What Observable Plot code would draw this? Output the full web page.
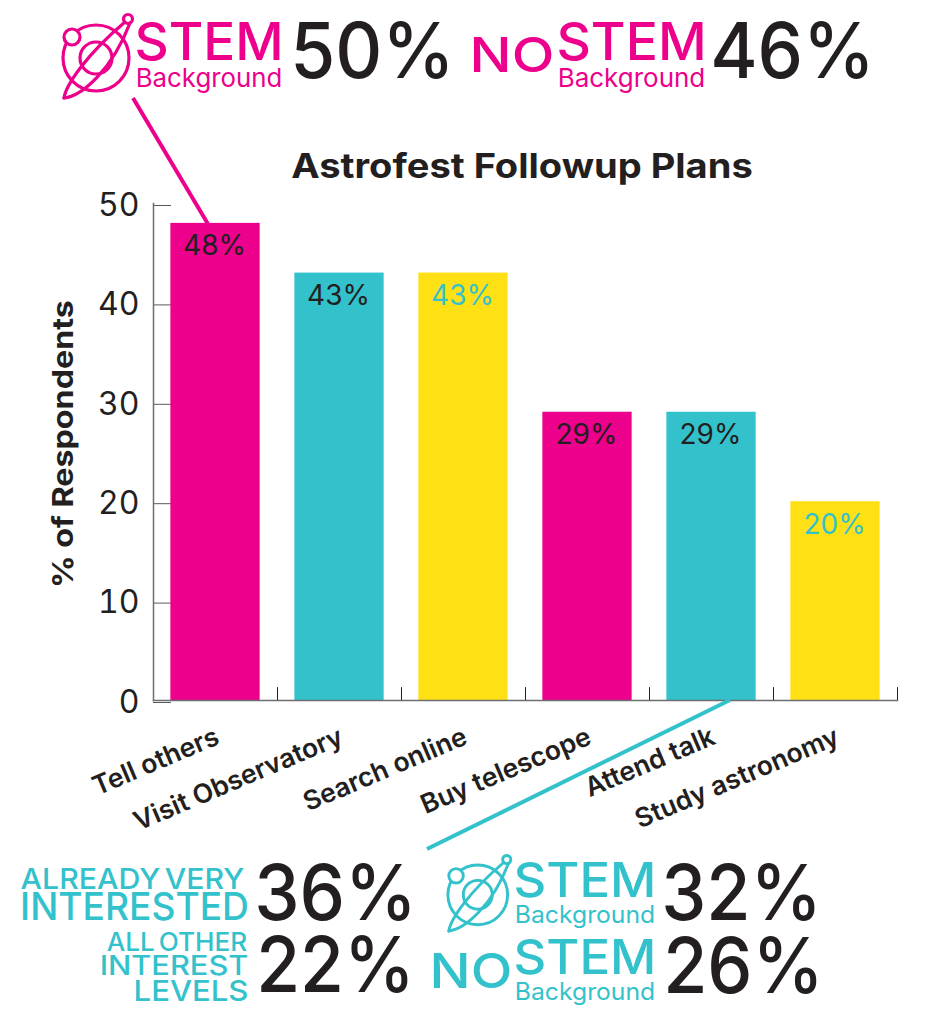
<!DOCTYPE html>
<html><head><meta charset="utf-8">
<script src="https://cdn.jsdelivr.net/npm/d3@7"></script>
<script src="https://cdn.jsdelivr.net/npm/@observablehq/plot@0.6"></script>
<style>
html,body{margin:0;padding:0;background:#fff}
#wrap{position:relative;width:926px;height:1014px;overflow:hidden}
#wrap>svg{position:absolute;left:0;top:0}
</style></head><body><div id="wrap"></div>
<script>
const categories = ["Tell others","Visit Observatory","Search online","Buy telescope","Attend talk","Study astronomy"];
const values = [48,43,43,29,29,20];
const barColors = ["#ec008c","#33c2cc","#ffe014","#ec008c","#33c2cc","#ffe014"];
const labelColors = ["#231f20","#231f20","#33c2cc","#231f20","#231f20","#33c2cc"];
const yTicks = [0,10,20,30,40,50];
const title = "Astrofest Followup Plans";
const yLabel = "% of Respondents";
const rows = categories.map((c,i)=>({c,v:values[i],bar:barColors[i],lab:labelColors[i]}));

const INK="#231f20", PINK="#ec008c", TEAL="#33c2cc", FONT="Inter, 'Open Sans', sans-serif";

const chart = Plot.plot({
  width:926, height:1014,
  marginLeft:153, marginRight:29, marginTop:203, marginBottom:314,
  style:{fontFamily:FONT, background:"transparent", color:INK, overflow:"visible"},
  x:{domain:categories, paddingInner:0.28, paddingOuter:0.14, round:false, label:null},
  y:{domain:[0,50], label:null},
  marks:[
    Plot.axisY({ticks:yTicks, tickSize:-18, tickPadding:32, fontSize:32, stroke:"#58595b", strokeWidth:1, label:null, dy:2, color:INK}),
    Plot.axisX({tickSize:0, tickPadding:35, tickRotate:-23, fontSize:26.5, fontWeight:600, label:null, dx:2, lineWidth:Infinity}),
    Plot.ruleX(categories,{x:d=>d, y1:0, y2:1.3, dx:62, stroke:"#231f20", strokeWidth:1}),
    Plot.barY(rows,{x:"c", y:"v", fill:"bar"}),
    Plot.frame({anchor:"left", stroke:"#6d6e71", strokeWidth:1.5}),
    Plot.frame({anchor:"bottom", stroke:"#6d6e71", strokeWidth:1.5}),
    Plot.text(rows,{x:"c", y:"v", text:d=>d.v+"%", fill:"lab", dy:23, dx:-1, fontSize:28, fontWeight:400})
  ]
});
const wrap=document.getElementById("wrap");
wrap.appendChild(chart);

/* ---- annotation overlay ---- */
const NS="http://www.w3.org/2000/svg";
const ov=document.createElementNS(NS,"svg");
ov.setAttribute("width",926);ov.setAttribute("height",1014);ov.style.pointerEvents="none";
wrap.appendChild(ov);
function el(n,a,p=ov){const e=document.createElementNS(NS,n);for(const k in a)e.setAttribute(k,a[k]);p.appendChild(e);return e;}
function txt(s,x,y,size,w,fill,weight=500,rot,ws){
  const pad=size*0.05;
  const px=rot?x:x-pad, pw=w+2*pad;
  const t=el("text",{x:px,y,"font-size":size,"font-family":FONT,"font-weight":weight,fill,textLength:pw,lengthAdjust:"spacingAndGlyphs"});
  if(ws) t.setAttribute("word-spacing",ws);
  if(rot) t.setAttribute("transform",`rotate(${rot} ${x} ${y})`);
  t.textContent=s;return t;
}
function icon(tx,ty,s,c){
  const g=el("g",{transform:`translate(${tx} ${ty}) scale(${s}) translate(-62 -14)`,fill:"none",stroke:c,"stroke-width":3.2,"stroke-linecap":"round"});
  el("circle",{cx:96,cy:58,r:33},g);
  el("circle",{cx:96,cy:58,r:16},g);
  el("circle",{cx:72,cy:37,r:8,fill:"#fff"},g);
  el("circle",{cx:128,cy:19,r:4.5},g);
  el("path",{d:"M64 98C66 85 86 55 125 22"},g);
  el("path",{d:"M64 98C82 96 112 70 130 23"},g);
}
// headings
txt(title,293,178,34,458,INK,700);
txt(yLabel,73,588,28,285,INK,700,-90);
// leader lines
el("line",{x1:133,y1:98,x2:208,y2:224,stroke:PINK,"stroke-width":4});
el("line",{x1:427,y1:849,x2:730,y2:700,stroke:TEAL,"stroke-width":4});
// top callouts
icon(62,14,1,PINK);
txt("STEM",137,60,52,144,PINK);
txt("Background",137,87,26,144,PINK,400);
txt("50%",294,78,77,157,INK);
txt("NO",472,72,48,80,PINK);
txt("STEM",559,60,52,145,PINK);
txt("Background",559,87,26,145,PINK,400);
txt("46%",714,78,77,157,INK);
// bottom callouts
txt("ALREADY VERY",22,889,29,221,TEAL,500,0,"-0.12em");
txt("INTERESTED",22,920,38,225,TEAL);
txt("36%",258,920,77,155,INK);
txt("ALL OTHER",108,951,25,138,TEAL,500,0,"-0.12em");
txt("INTEREST",101,975,27,146,TEAL);
txt("LEVELS",135,1001,29,112,TEAL);
txt("22%",260,992,77,151,INK);
icon(447,855,0.905,TEAL);
txt("STEM",516,897,48,138,TEAL);
txt("Background",516,923,24,138,TEAL,400);
txt("32%",665,920,77,153,INK);
txt("NO",432,988,48,78,TEAL);
txt("STEM",516,974,48,138,TEAL);
txt("Background",516,1000,24,138,TEAL,400);
txt("26%",667,993,77,153,INK);
</script></body></html>
